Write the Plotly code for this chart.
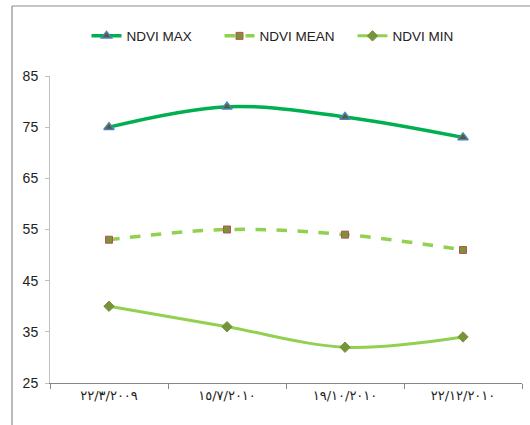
import plotly.graph_objects as go

categories = ["٢٢/٣/٢٠٠٩", "١٥/٧/٢٠١٠", "١٩/١٠/٢٠١٠", "٢٢/١٢/٢٠١٠"]
ndvi_max = [75, 79, 77, 73]
ndvi_mean = [53, 55, 54, 51]
ndvi_min = [40, 36, 32, 34]
y_ticks = [25, 35, 45, 55, 65, 75, 85]

FONT = "Liberation Sans, Arial, sans-serif"

fig = go.Figure()
fig.add_trace(go.Scatter(
    x=categories, y=ndvi_max, name="NDVI MAX", mode="lines+markers",
    line=dict(color="#00B050", width=3.5, shape="spline", smoothing=1),
    marker=dict(symbol="triangle-up", size=9, color="#4F6228",
                line=dict(color="#4F81BD", width=1.5)),
))
fig.add_trace(go.Scatter(
    x=categories, y=ndvi_mean, name="NDVI MEAN", mode="lines+markers",
    line=dict(color="#92D050", width=3.5, dash="dash", shape="spline", smoothing=1),
    marker=dict(symbol="square", size=7, color="#77933C",
                line=dict(color="#C0504D", width=1)),
))
fig.add_trace(go.Scatter(
    x=categories, y=ndvi_min, name="NDVI MIN", mode="lines+markers",
    line=dict(color="#92D050", width=3, shape="spline", smoothing=1),
    marker=dict(symbol="diamond", size=8, color="#77933C",
                line=dict(color="#77933C", width=1)),
))

fig.update_layout(
    width=530, height=425,
    margin=dict(l=50, r=8, t=76, b=42),
    paper_bgcolor="white", plot_bgcolor="white",
    font=dict(family=FONT, size=13, color="#222222"),
    showlegend=True,
    legend=dict(orientation="h", x=0.5, xanchor="center", y=1.13, yanchor="middle",
                font=dict(family=FONT, size=13.5, color="#222222"),
                entrywidth=88, entrywidthmode="pixels",
                bgcolor="rgba(0,0,0,0)"),
    xaxis=dict(type="category", tickson="boundaries", ticks="outside", ticklen=5,
               tickcolor="#868686", showline=True, linecolor="#868686", linewidth=1,
               showgrid=False, zeroline=False, range=[-0.5, 3.5],
               tickfont=dict(family="DejaVu Sans, sans-serif", size=13, color="#222222")),
    yaxis=dict(range=[25, 85], tickvals=y_ticks, ticks="outside", ticklen=4,
               tickcolor="#BFBFBF", showline=True, linecolor="#BFBFBF", linewidth=1,
               showgrid=False, zeroline=False, ticklabelstandoff=4,
               tickfont=dict(family=FONT, size=14, color="#222222")),
    shapes=[
        dict(type="line", xref="paper", yref="paper", x0=-0.0805, x1=-0.0805,
             y0=-0.2, y1=1.228, line=dict(color="#8C8C8C", width=1.2)),
        dict(type="line", xref="paper", yref="paper", x0=-0.0805, x1=1.1,
             y0=1.228, y1=1.228, line=dict(color="#8C8C8C", width=1.2)),
    ],
)

fig.write_html("out.html", config={"displayModeBar": False},
               post_script="document.body.style.margin='0';")
